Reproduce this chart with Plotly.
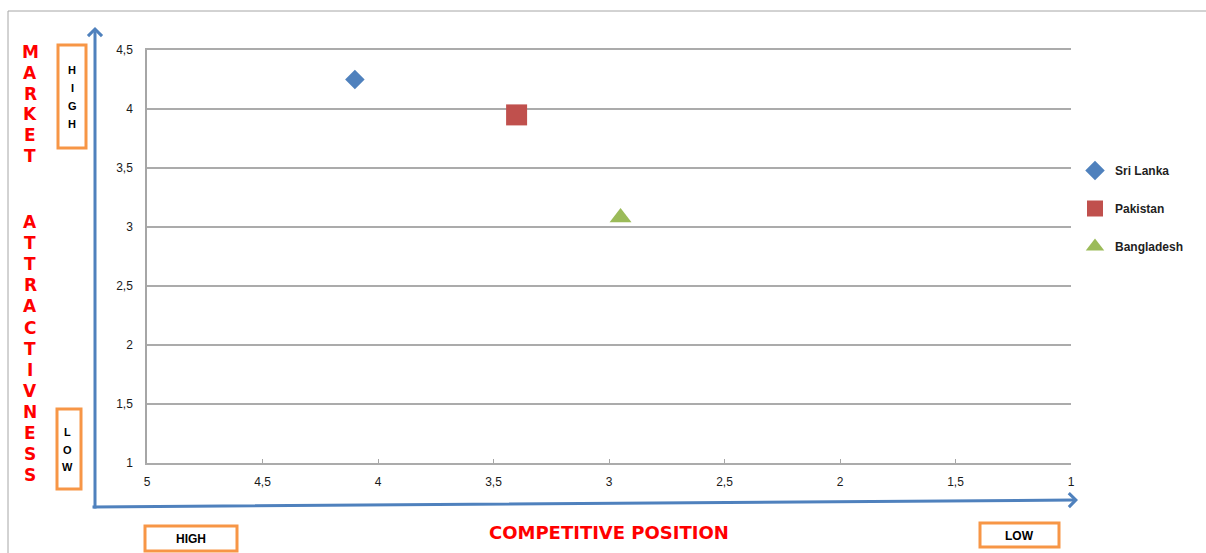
import plotly.graph_objects as go

# ---- data ----
countries = ["Sri Lanka", "Pakistan", "Bangladesh"]
competitive_position = [4.1, 3.4, 2.95]
market_attractiveness = [4.25, 3.95, 3.08]
symbols = ["diamond", "square", "triangle-up"]
colors = ["#4F81BD", "#C0504D", "#9BBB59"]
sizes = [15, 21, 19]
x_ticks = [5, 4.5, 4, 3.5, 3, 2.5, 2, 1.5, 1]
y_ticks = [1, 1.5, 2, 2.5, 3, 3.5, 4, 4.5]

W, H = 1206, 553
L, R, T, B = 147, 1071, 50, 463


def px(x):
    return (x - L) / (R - L)


def py(y):
    return (B - y) / (B - T)


fig = go.Figure()
for i, c in enumerate(countries):
    fig.add_trace(go.Scatter(
        x=[competitive_position[i]], y=[market_attractiveness[i]],
        mode="markers", name="<b>" + c + "</b>", legendgroup=c,
        marker=dict(symbol=symbols[i], color=colors[i], size=sizes[i],
                    line=dict(width=0)),
        cliponaxis=False,
    ))

shapes = []
annotations = []

# outer border
shapes.append(dict(type="rect", xref="paper", yref="paper",
                   x0=px(8), x1=px(1215), y0=py(11), y1=py(570),
                   line=dict(color="#A6A6A6", width=1), layer="below"))

# orange boxes
boxes = [(58, 45, 86, 148), (57, 409, 81, 489), (145, 526, 237, 551), (980, 523, 1059, 547)]
for (x0, y0, x1, y1) in boxes:
    shapes.append(dict(type="rect", xref="paper", yref="paper",
                       x0=px(x0), x1=px(x1), y0=py(y0), y1=py(y1),
                       line=dict(color="#F79646", width=3)))

box_font = dict(family="Liberation Sans", size=11, color="#000000", weight="bold")
for i, ch in enumerate("HIGH"):
    annotations.append(dict(text=ch, xref="paper", yref="paper", x=px(72), y=py(70 + i * 18),
                            showarrow=False, font=box_font, xanchor="center", yanchor="middle"))
for i, ch in enumerate("LOW"):
    annotations.append(dict(text=ch, xref="paper", yref="paper", x=px(67), y=py(432 + i * 17.5),
                            showarrow=False, font=box_font, xanchor="center", yanchor="middle"))
annotations.append(dict(text="HIGH", xref="paper", yref="paper", x=px(191), y=py(539),
                        showarrow=False, font=dict(box_font, size=12), xanchor="center", yanchor="middle"))
annotations.append(dict(text="LOW", xref="paper", yref="paper", x=px(1019), y=py(536),
                        showarrow=False, font=dict(box_font, size=12), xanchor="center", yanchor="middle"))

# red axis titles
red_font = dict(family="DejaVu Sans", size=17, color="#FF0000", weight="bold")
for i, ch in enumerate("MARKET"):
    annotations.append(dict(text=ch, xref="paper", yref="paper", x=px(30), y=py(52 + i * 20.8),
                            showarrow=False, font=red_font, xanchor="center", yanchor="middle"))
for i, ch in enumerate("ATTRACTIVNESS"):
    annotations.append(dict(text=ch, xref="paper", yref="paper", x=px(30), y=py(222 + i * 21.1),
                            showarrow=False, font=red_font, xanchor="center", yanchor="middle"))
annotations.append(dict(text="COMPETITIVE POSITION", xref="paper", yref="paper", x=px(609), y=py(532),
                        showarrow=False, font=dict(red_font, size=18), xanchor="center", yanchor="middle"))

# blue arrows
annotations.append(dict(text="", xref="paper", yref="paper", x=px(95), y=py(27),
                        ax=0, ay=483, showarrow=True, arrowhead=4, arrowsize=0.9,
                        arrowwidth=3, arrowcolor="#4F81BD"))
annotations.append(dict(text="", xref="paper", yref="paper", x=px(1078), y=py(500),
                        ax=-987, ay=7, showarrow=True, arrowhead=4, arrowsize=0.9,
                        arrowwidth=3, arrowcolor="#4F81BD"))

tick_font = dict(family="Liberation Sans", size=12, color="#1A1A1A")
fig.update_layout(
    width=W, height=H,
    margin=dict(l=L, r=W - R, t=T, b=H - B, pad=0),
    paper_bgcolor="white", plot_bgcolor="white",
    separators=", ",
    showlegend=True,
    legend=dict(x=px(1075), y=py(156), xanchor="left", yanchor="top",
                font=dict(family="Liberation Sans", size=12, color="#1F1F1F"),
                tracegroupgap=19, bgcolor="rgba(0,0,0,0)"),
    xaxis=dict(range=[5, 1], tickvals=x_ticks, showgrid=False, zeroline=False,
               showline=True, mirror=True, linecolor="#ABABAB", linewidth=1.5,
               ticks="inside", ticklen=4, tickcolor="#A6A6A6", tickwidth=1,
               tickfont=tick_font, ticklabelstandoff=7),
    yaxis=dict(range=[1, 4.5], tickvals=y_ticks, showgrid=True, gridcolor="#ABABAB", gridwidth=1.5,
               zeroline=False, showline=True, linecolor="#A6A6A6", linewidth=1.5,
               ticks="", tickfont=tick_font, ticklabelstandoff=10),
    shapes=shapes,
    annotations=annotations,
)

fig.write_html("out.html")
